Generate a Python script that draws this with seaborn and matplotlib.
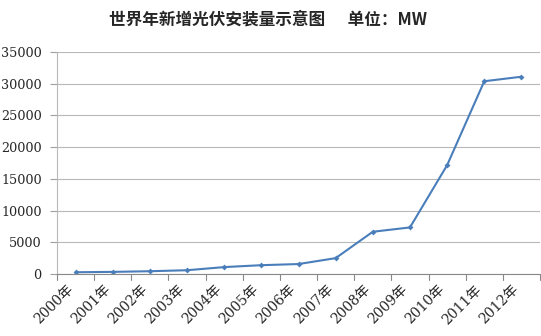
import matplotlib
matplotlib.use("Agg")
import matplotlib.pyplot as plt
import seaborn as sns
import pandas as pd

# Annual new PV installations worldwide (MW)
years = ["2000年", "2001年", "2002年", "2003年", "2004年", "2005年", "2006年",
         "2007年", "2008年", "2009年", "2010年", "2011年", "2012年"]
installed_mw = [278, 334, 439, 594, 1088, 1389, 1570, 2500, 6661, 7342, 17151, 30391, 31100]
y_ticks = [0, 5000, 10000, 15000, 20000, 25000, 30000, 35000]

sns.set_theme(style="white")
plt.rcParams["font.family"] = ["DejaVu Serif", "Noto Sans CJK SC"]

df = pd.DataFrame({"year": years, "mw": installed_mw})
df["pos"] = range(len(df))

fig = plt.figure(figsize=(5.41, 3.36), dpi=100)
ax = fig.add_axes([57 / 541, 1 - 274 / 336, (540 - 57) / 541, (274 - 52) / 336])

sns.lineplot(data=df, x="pos", y="mw", ax=ax, color="#4a7ebb", linewidth=1.5,
             marker="D", markersize=3, markeredgewidth=0, markerfacecolor="#4a7ebb")

ax.set_xlim(-0.5, len(years) - 0.5)
ax.set_ylim(0, 35000)
ax.set_yticks(y_ticks)
ax.set_yticklabels([str(v) for v in y_ticks], fontsize=9.2,
                   family=["DejaVu Serif"])
ax.set_xticks(range(len(years)))
ax.set_xticklabels(years, rotation=45, ha="right", va="top", fontsize=10,
                   family=["DejaVu Serif", "Noto Sans CJK SC"])
ax.tick_params(axis="x", length=0, pad=6)
ax.tick_params(axis="y", length=5, color="#a0a0a0", width=0.8, pad=6, left=True)

# Category boundary ticks below the axis
for b in range(len(years) + 1):
    ax.plot([b - 0.5, b - 0.5], [0, -0.025], transform=ax.get_xaxis_transform(),
            color="#888888", linewidth=0.8, clip_on=False)

ax.grid(axis="y", color="#b8b8b8", linewidth=0.8)
ax.grid(axis="x", visible=False)
ax.set_axisbelow(True)
for side in ["top", "right"]:
    ax.spines[side].set_visible(False)
ax.spines["left"].set_color("#b8b8b8")
ax.spines["left"].set_linewidth(0.8)
ax.spines["bottom"].set_color("#888888")
ax.spines["bottom"].set_linewidth(0.8)
ax.set_xlabel("")
ax.set_ylabel("")

fig.text(268 / 541, 1 - 20 / 336, "世界年新增光伏安装量示意图      单位：MW",
         ha="center", va="center", fontsize=12, fontweight="bold",
         family=["Noto Sans CJK SC", "DejaVu Sans"])

fig.savefig("out.png", dpi=100, facecolor="white")
